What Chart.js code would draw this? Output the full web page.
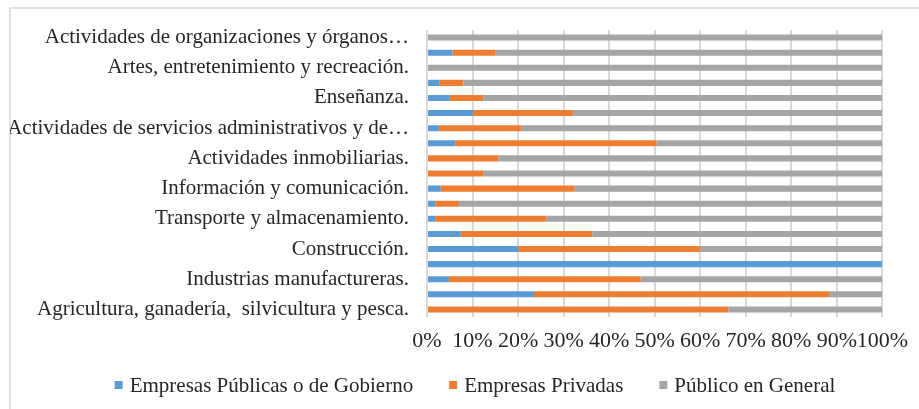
<!DOCTYPE html>
<html>
<head>
<meta charset="utf-8">
<script src="https://cdn.jsdelivr.net/npm/chart.js@4/dist/chart.umd.min.js"></script>
<style>
  html, body { margin: 0; padding: 0; overflow: hidden; background: #fff; }
  #wrap { width: 919px; height: 409px; }
</style>
</head>
<body>
<div id="wrap"><canvas id="sectorChart"></canvas></div>
<script>
// Categories in sheet order (first one ends up at the bottom)
const sectores = [
  'Agricultura, ganadería,  silvicultura y pesca.',
  'Explotación de minas y canteras.',
  'Industrias manufactureras.',
  'Suministro de electricidad, gas, vapor y aire acondicionado.',
  'Construcción.',
  'Comercio al por mayor y al por menor.',
  'Transporte y almacenamiento.',
  'Actividades de alojamiento y de servicio de comidas.',
  'Información y comunicación.',
  'Actividades financieras y de seguros.',
  'Actividades inmobiliarias.',
  'Actividades profesionales, científicas y técnicas.',
  'Actividades de servicios administrativos y de…',
  'Administración pública y defensa.',
  'Enseñanza.',
  'Actividades de atención de la salud humana.',
  'Artes, entretenimiento y recreación.',
  'Otras actividades de servicios.',
  'Actividades de organizaciones y órganos…'
];

// Share of each client type (%)
const empresasPublicas = [0, 23.5, 4.8, 100, 20, 7.4, 1.8, 1.8, 3.0, 0, 0, 6.2, 2.6, 10.1, 5.0, 2.8, 0, 5.6, 0];
const empresasPrivadas = [66.2, 64.8, 42.1, 0, 40, 28.9, 24.4, 5.2, 29.4, 12.4, 15.7, 44.2, 18.2, 22.0, 7.4, 5.2, 0, 9.5, 0];
const publicoGeneral = [33.8, 11.7, 53.1, 0, 40, 63.7, 73.8, 93.0, 67.6, 87.6, 84.3, 49.6, 79.2, 67.9, 87.6, 92.0, 100, 84.9, 100];

const xTicks = [0, 10, 20, 30, 40, 50, 60, 70, 80, 90, 100];

const serif = "'Liberation Serif', 'Times New Roman', serif";
const textColor = '#262626';

// Light grey frame around the chart
const framePlugin = {
  id: 'frame',
  beforeDraw(chart) {
    const ctx = chart.ctx;
    ctx.save();
    ctx.strokeStyle = '#d9d9d9';
    ctx.lineWidth = 1.5;
    ctx.beginPath();
    ctx.moveTo(10, chart.height);
    ctx.lineTo(10, 8);
    ctx.lineTo(chart.width, 8);
    ctx.stroke();
    ctx.restore();
  }
};

// Legend row under the axis, centred like the original
const legendRow = {
  id: 'legendRow',
  afterDraw(chart) {
    const ctx = chart.ctx;
    const items = chart.data.datasets;
    const box = 8, gap = 7, spacing = 36, y = 386;
    ctx.save();
    ctx.font = '21px ' + serif;
    ctx.textBaseline = 'middle';
    const widths = items.map(d => ctx.measureText(d.label).width);
    let total = widths.reduce((a, w) => a + box + gap + w, 0) + spacing * (items.length - 1);
    let x = 475 - total / 2;
    items.forEach((d, i) => {
      ctx.fillStyle = d.backgroundColor;
      ctx.fillRect(x, y - box / 2 - 1, box, box);
      ctx.fillStyle = textColor;
      ctx.fillText(d.label, x + box + gap, y);
      x += box + gap + widths[i] + spacing;
    });
    ctx.restore();
  }
};

const ctx = document.getElementById('sectorChart').getContext('2d');
new Chart(ctx, {
  type: 'bar',
  data: {
    labels: sectores,
    datasets: [
      { label: 'Empresas Públicas o de Gobierno', data: empresasPublicas, backgroundColor: '#5b9bd5' },
      { label: 'Empresas Privadas', data: empresasPrivadas, backgroundColor: '#ed7d31' },
      { label: 'Público en General', data: publicoGeneral, backgroundColor: '#a5a5a5' }
    ]
  },
  options: {
    indexAxis: 'y',
    responsive: true,
    maintainAspectRatio: false,
    animation: false,
    datasets: {
      bar: { barPercentage: 0.4, categoryPercentage: 1.0, borderWidth: 0 }
    },
    layout: {
      padding: { left: 10, right: 36, top: 30, bottom: 52 }
    },
    scales: {
      x: {
        stacked: true,
        min: 0,
        max: 100,
        afterBuildTicks(scale) {
          scale.ticks = xTicks.map(v => ({ value: v }));
        },
        afterFit(scale) {
          scale.height = 40;
        },
        grid: { color: '#d9d9d9', lineWidth: 2, drawTicks: false },
        border: { display: false },
        ticks: {
          autoSkip: false,
          padding: 11,
          color: textColor,
          font: { family: serif, size: 22 },
          maxRotation: 0,
          callback: v => v + '%'
        }
      },
      y: {
        stacked: true,
        reverse: true,
        afterFit(scale) {
          scale.width = 427 - 10;
        },
        grid: { display: false },
        border: { display: false },
        ticks: {
          autoSkip: false,
          padding: 10,
          color: textColor,
          font: { family: serif, size: 21 },
          callback: function (value, index) {
            return index % 2 === 0 ? this.getLabelForValue(value) : '';
          }
        }
      }
    },
    plugins: {
      legend: { display: false },
      tooltip: { enabled: false }
    }
  },
  plugins: [framePlugin, legendRow]
});
</script>
</body>
</html>
